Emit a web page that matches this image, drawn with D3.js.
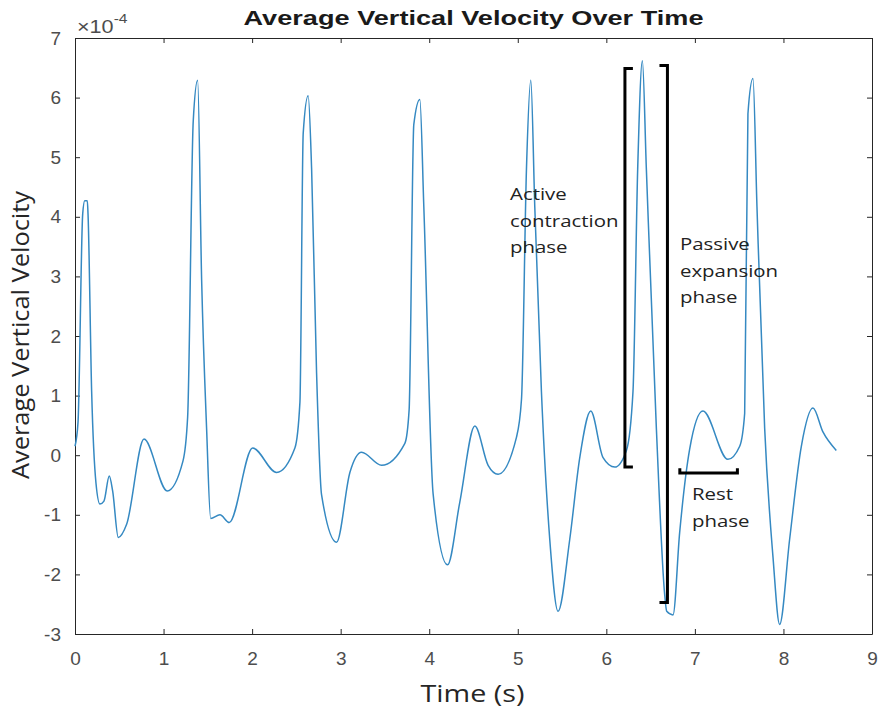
<!DOCTYPE html>
<html>
<head>
<meta charset="utf-8">
<script src="https://d3js.org/d3.v7.min.js"></script>
<style>
  body { margin: 0; background: #fff; }
  svg { display: block; }
  .tick text { font-family: "Liberation Sans", Arial, sans-serif; font-size: 19px; fill: #4d4d4d; }
  .tick line, .domain { stroke: #262626; }
</style>
</head>
<body>
<svg id="chart" width="883" height="719"></svg>
<script>
// time in seconds, velocity in units of 1e-4
var time = [0.00, 0.034, 0.087, 0.110, 0.139, 0.147, 0.188, 0.237, 0.282, 0.327, 0.387, 0.425, 0.489, 0.583,
    0.779, 1.042, 1.219, 1.272, 1.335, 1.385, 1.430, 1.486, 1.532, 1.637, 1.742, 2.006, 2.277, 2.483,
    2.540, 2.577, 2.633, 2.672, 2.728, 2.784, 2.954, 3.104, 3.236, 3.462, 3.725, 3.773, 3.826, 3.894,
    3.939, 4.044, 4.207, 4.345, 4.515, 4.665, 4.778, 4.985, 5.042, 5.098, 5.147, 5.192, 5.267, 5.361,
    5.455, 5.587, 5.700, 5.824, 5.963, 6.095, 6.227, 6.301, 6.354, 6.407, 6.452, 6.565, 6.659, 6.682,
    6.753, 6.828, 6.941, 7.091, 7.373, 7.506, 7.562, 7.599, 7.656, 7.701, 7.788, 7.882, 7.957, 8.070,
    8.202, 8.333, 8.446, 8.597];
var velocity = [0.15, 0.55, 4.05, 4.27, 4.27, 4.05, 1.07, -0.47, -0.82, -0.77, -0.35, -0.60, -1.38, -1.16,
    0.27, -0.60, -0.10, 0.64, 5.60, 6.29, 2.94, 0.45, -1.06, -1.00, -1.13, 0.12, -0.29, 0.12,
    0.89, 5.40, 6.03, 4.80, 1.38, -0.66, -1.46, -0.29, 0.05, -0.17, 0.20, 0.76, 5.55, 5.97,
    4.17, -0.65, -1.84, -0.79, 0.49, -0.17, -0.32, 0.30, 0.94, 4.80, 6.29, 4.17, 1.07, -1.41,
    -2.62, -1.41, -0.04, 0.74, -0.04, -0.20, 0.08, 1.07, 4.80, 6.62, 4.80, 0.45, -2.34, -2.62,
    -2.68, -1.30, 0.10, 0.74, -0.07, 0.15, 0.70, 5.73, 6.32, 4.17, 0.45, -1.71, -2.84, -1.41,
    0.15, 0.79, 0.39, 0.08];

var xTicks = [0, 1, 2, 3, 4, 5, 6, 7, 8, 9];
var yTicks = [-3, -2, -1, 0, 1, 2, 3, 4, 5, 6, 7];

// annotation brackets, in data units
var activeBracket = { t: 6.21, tip: 6.30, top: 6.49, bottom: -0.20 };
var passiveBracket = { t: 6.69, tip: 6.60, top: 6.54, bottom: -2.47 };
var restBracket = { t0: 6.83, t1: 7.48, v: -0.30, tip: -0.22 };

var svg = d3.select("#chart"),
    plotLeft = 75, plotRight = 872, plotTop = 38, plotBottom = 634,
    stretch = 1.2; // the source picture is a bit wider than tall

var x = d3.scaleLinear().domain([0, 9]).range([plotLeft, plotRight]);
var y = d3.scaleLinear().domain([-3, 7]).range([plotBottom, plotTop]);
var plain = function(d) { return String(d); };

// axes, MATLAB style box with ticks pointing inside
svg.append("g")
    .attr("transform", "translate(0," + plotBottom + ")")
    .call(d3.axisBottom(x).tickValues(xTicks).tickFormat(plain).tickSize(-5).tickSizeOuter(0).tickPadding(18));
svg.append("g")
    .attr("transform", "translate(0," + plotTop + ")")
    .call(d3.axisTop(x).tickValues(xTicks).tickSize(-5).tickSizeOuter(0).tickFormat(""));
svg.append("g")
    .attr("transform", "translate(" + plotLeft + ",0)")
    .call(d3.axisLeft(y).tickValues(yTicks).tickFormat(plain).tickSize(-5).tickSizeOuter(0).tickPadding(14));
svg.append("g")
    .attr("transform", "translate(" + plotRight + ",0)")
    .call(d3.axisRight(y).tickValues(yTicks).tickSize(-5).tickSizeOuter(0).tickFormat(""));

// horizontal text, stretched like the source
function hText(px, py, font, size, anchor) {
    return svg.append("text")
        .attr("transform", "translate(" + px + "," + py + ") scale(" + stretch + ",1)")
        .attr("text-anchor", anchor || "start")
        .style("font-family", font)
        .style("font-size", size + "px");
}

// exponent label
var expo = hText(plotLeft + 2, 33, "'Liberation Sans', Arial, sans-serif", 18).style("fill", "#4d4d4d");
expo.append("tspan").text("\u00d710");
expo.append("tspan").attr("dy", -10).style("font-size", "13px").text("-4");

// title
hText((plotLeft + plotRight) / 2, 25, "'Liberation Sans', Arial, sans-serif", 20, "middle")
    .style("font-weight", "bold").style("fill", "#1a1a1a")
    .attr("textLength", 460 / stretch).attr("lengthAdjust", "spacingAndGlyphs")
    .text("Average Vertical Velocity Over Time");

// axis labels
hText((plotLeft + plotRight) / 2 - 1, 702, "'Open Sans', 'Noto Sans', sans-serif", 23, "middle")
    .style("fill", "#262626")
    .attr("textLength", 104 / stretch).attr("lengthAdjust", "spacingAndGlyphs")
    .text("Time (s)");
svg.append("text")
    .attr("transform", "translate(29," + ((plotTop + plotBottom) / 2 - 1) + ") rotate(-90)")
    .attr("text-anchor", "middle")
    .style("font-family", "'Open Sans', 'Noto Sans', sans-serif")
    .style("font-size", "24px").style("fill", "#262626")
    .attr("textLength", 288).attr("lengthAdjust", "spacingAndGlyphs")
    .text("Average Vertical Velocity");

// the signal
var points = time.map(function(t, i) { return [t, velocity[i]]; });
var line = d3.line()
    .x(function(d) { return x(d[0]); })
    .y(function(d) { return y(d[1]); })
    .curve(d3.curveMonotoneX);

svg.append("path")
    .datum(points)
    .attr("d", line)
    .attr("fill", "none")
    .attr("stroke", "#3589c2")
    .attr("stroke-width", 1.5);

// brackets
var bracketStyle = function(sel) {
    sel.attr("fill", "none").attr("stroke", "#000").attr("stroke-width", 3);
};
svg.append("path").call(bracketStyle)
    .attr("d", d3.line()([
        [x(activeBracket.tip), y(activeBracket.top)], [x(activeBracket.t), y(activeBracket.top)],
        [x(activeBracket.t), y(activeBracket.bottom)], [x(activeBracket.tip), y(activeBracket.bottom)]
    ]));
svg.append("path").call(bracketStyle)
    .attr("d", d3.line()([
        [x(passiveBracket.tip), y(passiveBracket.top)], [x(passiveBracket.t), y(passiveBracket.top)],
        [x(passiveBracket.t), y(passiveBracket.bottom)], [x(passiveBracket.tip), y(passiveBracket.bottom)]
    ]));
svg.append("path").call(bracketStyle)
    .attr("d", d3.line()([
        [x(restBracket.t0), y(restBracket.tip)], [x(restBracket.t0), y(restBracket.v)],
        [x(restBracket.t1), y(restBracket.v)], [x(restBracket.t1), y(restBracket.tip)]
    ]));

// annotation texts
function note(lines, px, py) {
    lines.forEach(function(s, i) {
        hText(px, py + i * 26.5, "'Open Sans', 'Noto Sans', sans-serif", 17)
            .style("fill", "#222").text(s);
    });
}
note(["Active", "contraction", "phase"], 510, 200);
note(["Passive", "expansion", "phase"], 680, 250);
note(["Rest", "phase"], 692, 500);
</script>
</body>
</html>
